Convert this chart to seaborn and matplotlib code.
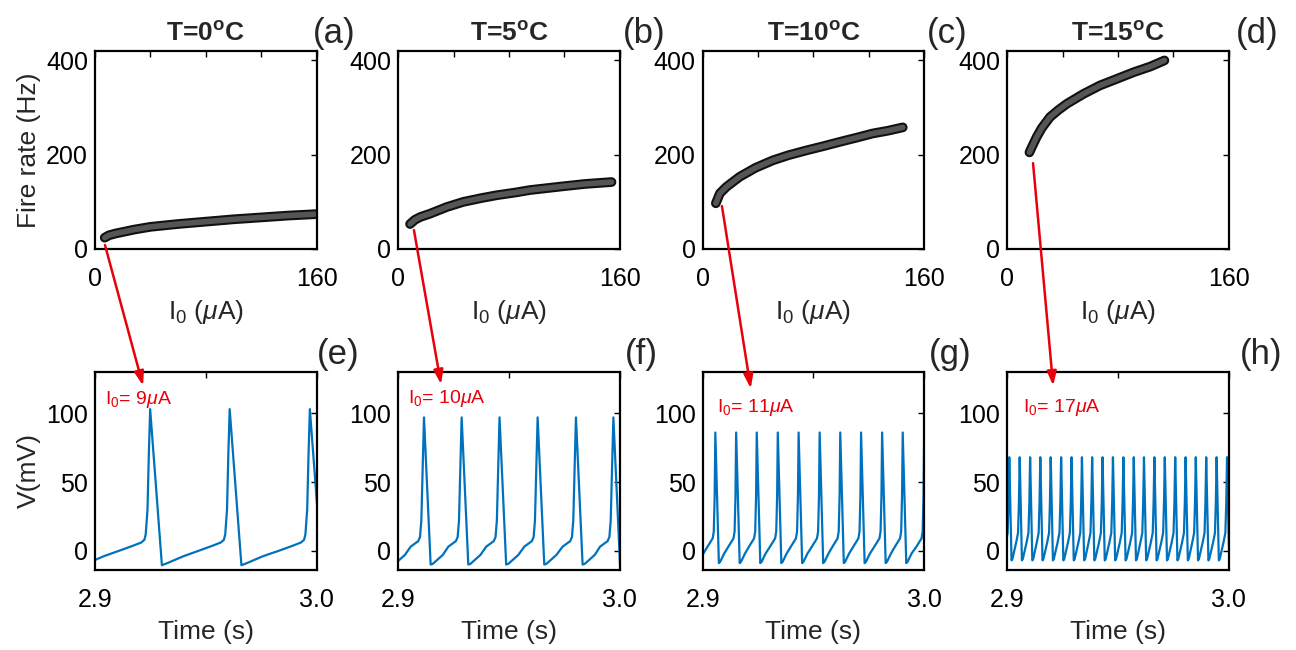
import numpy as np
import pandas as pd
import matplotlib
matplotlib.use("Agg")
import matplotlib.pyplot as plt
import matplotlib.patheffects as pe
from matplotlib.patches import ConnectionPatch
import seaborn as sns

# datos
temps = ["0", "5", "10", "15"]
panel_top = ["(a)", "(b)", "(c)", "(d)"]
panel_bot = ["(e)", "(f)", "(g)", "(h)"]
corrientes = ["9", "10", "11", "17"]

# curvas fire rate vs I0
I_a = [7, 10, 15, 20, 28, 40, 60, 80, 100, 120, 140, 160]
rate_a = [24, 29, 33, 36, 41, 47, 53, 58, 63, 67, 71, 74]
I_b = [8.5, 12, 16, 23, 35, 47, 60, 71, 85, 95, 110, 119, 135, 154]
rate_b = [53, 62, 68, 75, 89, 100, 108, 114, 120, 125, 130, 133, 138, 142]
I_c = [9.5, 12.4, 17.2, 26.6, 38, 50.6, 62, 74.7, 87, 98.7, 111, 122.7, 134, 144.5]
rate_c = [97, 118, 132, 153, 172, 188, 199, 209, 218, 227, 236, 245, 251, 258]
I_d = [16, 17.7, 21.3, 25, 30.9, 37, 43, 55, 67, 79.2, 91.3, 103.3, 113.5]
rate_d = [205, 216, 238, 257, 280, 295, 308, 329, 347, 361, 375, 387, 400]

# forma de un ciclo (ms respecto al pico, mV) y tiempos de los picos (s)
off_e = [-14, -8, -4, -2.6, -2.0, -1.2, -0.6, 0, 5.3, 7, 15]
v_e = [0, 3.5, 6, 8, 12, 30, 70, 103, -10.5, -9.5, -4]
picos_e = [2.8889, 2.9249, 2.9608, 2.9970, 3.0330]

off_f = [-6, -2.6, -1.8, -1.2, -0.6, 0, 3.0, 4.0, 8.5]
v_f = [3, 7, 10, 22, 60, 97, -10, -9.5, -3]
picos_f = [2.8945, 2.9116, 2.9286, 2.9457, 2.9629, 2.9802, 2.9971, 3.0142]

off_g = [-3.5, -1.2, -0.7, -0.3, 0, 1.6, 2.2, 4.0]
v_g = [3, 9, 14, 40, 86, -9, -8, -2]
picos_g = [2.8963, 2.9057, 2.9151, 2.9244, 2.9339, 2.9433, 2.9528, 2.9621,
           2.9715, 2.9810, 2.9903, 3.0000, 3.0094]

off_h = [-1.6, -0.75, -0.35, 0, 1.0, 1.4]
v_h = [6, 13, 35, 68, -7, -6]
picos_h = [2.8962, 2.9009, 2.9056, 2.9103, 2.9149, 2.9196, 2.9243, 2.9290,
           2.9337, 2.9383, 2.9430, 2.9477, 2.9524, 2.9571, 2.9617, 2.9664,
           2.9711, 2.9758, 2.9805, 2.9851, 2.9898, 2.9945, 2.9992, 3.0039]

# flechas: inicio (I0, rate) y punta (t, V)
flecha_ini = [(7.2, 8.5), (11.3, 40), (13.9, 91), (18.6, 182)]
flecha_fin = [(2.9217, 120), (2.9193, 121), (2.9217, 118), (2.9207, 120)]
texto_pos = [(2.9045, 110), (2.9045, 111), (2.9063, 104), (2.9072, 104)]

curvas = [(I_a, rate_a), (I_b, rate_b), (I_c, rate_c), (I_d, rate_d)]
trazas = [(off_e, v_e, picos_e), (off_f, v_f, picos_f),
          (off_g, v_g, picos_g), (off_h, v_h, picos_h)]

sns.set_style("white")
plt.rcParams['font.family'] = ['Liberation Sans', 'DejaVu Sans']
plt.rcParams['mathtext.fontset'] = 'custom'
plt.rcParams['mathtext.rm'] = 'Liberation Sans'
plt.rcParams['mathtext.it'] = 'Liberation Sans:italic'
plt.rcParams['mathtext.bf'] = 'Liberation Sans:bold'
plt.rcParams['mathtext.default'] = 'rm'

fig = plt.figure(figsize=(12.96, 6.5), dpi=100)
lefts = [95, 398.3, 702.7, 1007.3]
W, H = 1296.0, 650.0
azul = '#0072BD'
rojo = '#e8000b'

for i in range(4):
    ax1 = fig.add_axes([lefts[i] / W, 1 - 249 / H, 221.5 / W, 198 / H])
    ax2 = fig.add_axes([lefts[i] / W, 1 - 570 / H, 221.5 / W, 198 / H])

    # panel superior
    df = pd.DataFrame({'I': curvas[i][0], 'rate': curvas[i][1]})
    sns.lineplot(data=df, x='I', y='rate', ax=ax1, color='#555555', lw=4,
                 estimator=None, sort=False)
    ln = ax1.lines[-1]
    ln.set_solid_capstyle('round')
    ln.set_path_effects([pe.Stroke(linewidth=7, foreground='#111111'), pe.Normal()])
    ax1.set_xlim(0, 160)
    ax1.set_ylim(0, 420)
    ax1.set_xticks([0, 40, 80, 120, 160])
    ax1.set_xticklabels(['0', '', '', '', '160'])
    ax1.set_yticks([0, 200, 400])
    ax1.set_xlabel(r'$\mathrm{I}_0$ ($\mathit{\mu}$A)', fontsize=19, labelpad=5)
    ax1.set_ylabel('Fire rate (Hz)' if i == 0 else '', fontsize=19, labelpad=4)
    ax1.set_title(r'T=' + temps[i] + r'$^{\mathbf{o}}$C', fontweight='bold',
                  fontsize=19, pad=7)

    # panel inferior
    off, v, picos = trazas[i]
    t = np.concatenate([p + np.array(off) / 1000.0 for p in picos])
    vv = np.concatenate([np.array(v, dtype=float) for p in picos])
    df2 = pd.DataFrame({'t': t, 'V': vv})
    sns.lineplot(data=df2, x='t', y='V', ax=ax2, color=azul, lw=1.6,
                 estimator=None, sort=False)
    ax2.set_xlim(2.9, 3.0)
    ax2.set_ylim(-14, 130)
    ax2.set_xticks([2.9, 2.95, 3.0])
    ax2.set_xticklabels(['2.9', '', '3.0'])
    ax2.set_yticks([0, 50, 100])
    ax2.set_xlabel('Time (s)', fontsize=19, labelpad=6)
    ax2.set_ylabel('V(mV)' if i == 0 else '', fontsize=19, labelpad=4)
    ax2.text(texto_pos[i][0], texto_pos[i][1],
             r'$\mathrm{I}_0$= ' + corrientes[i] + r'$\mathit{\mu}$A',
             color=rojo, fontsize=14, va='center', ha='left')

    for ax in (ax1, ax2):
        ax.tick_params(direction='in', top=True, right=True, length=4,
                       width=1, labelsize=18, colors='black')
        ax.tick_params(axis='x', pad=13)
        ax.tick_params(axis='y', pad=5)
        for s in ax.spines.values():
            s.set_linewidth(1.6)
            s.set_color('black')
            s.set_visible(True)

    con = ConnectionPatch(xyA=flecha_ini[i], coordsA=ax1.transData,
                          xyB=flecha_fin[i], coordsB=ax2.transData,
                          arrowstyle='-|>,head_length=0.6,head_width=0.2',
                          color=rojo, lw=1.8, mutation_scale=14)
    fig.add_artist(con)

# etiquetas de panel
pos_top = [334, 644, 947, 1257]
pos_bot = [338, 641, 950, 1261]
for i in range(4):
    fig.text(pos_top[i] / W, 1 - 34 / H, panel_top[i], fontsize=25,
             ha='center', va='center')
    fig.text(pos_bot[i] / W, 1 - 355 / H, panel_bot[i], fontsize=25,
             ha='center', va='center')

fig.savefig('out.png', dpi=100)
